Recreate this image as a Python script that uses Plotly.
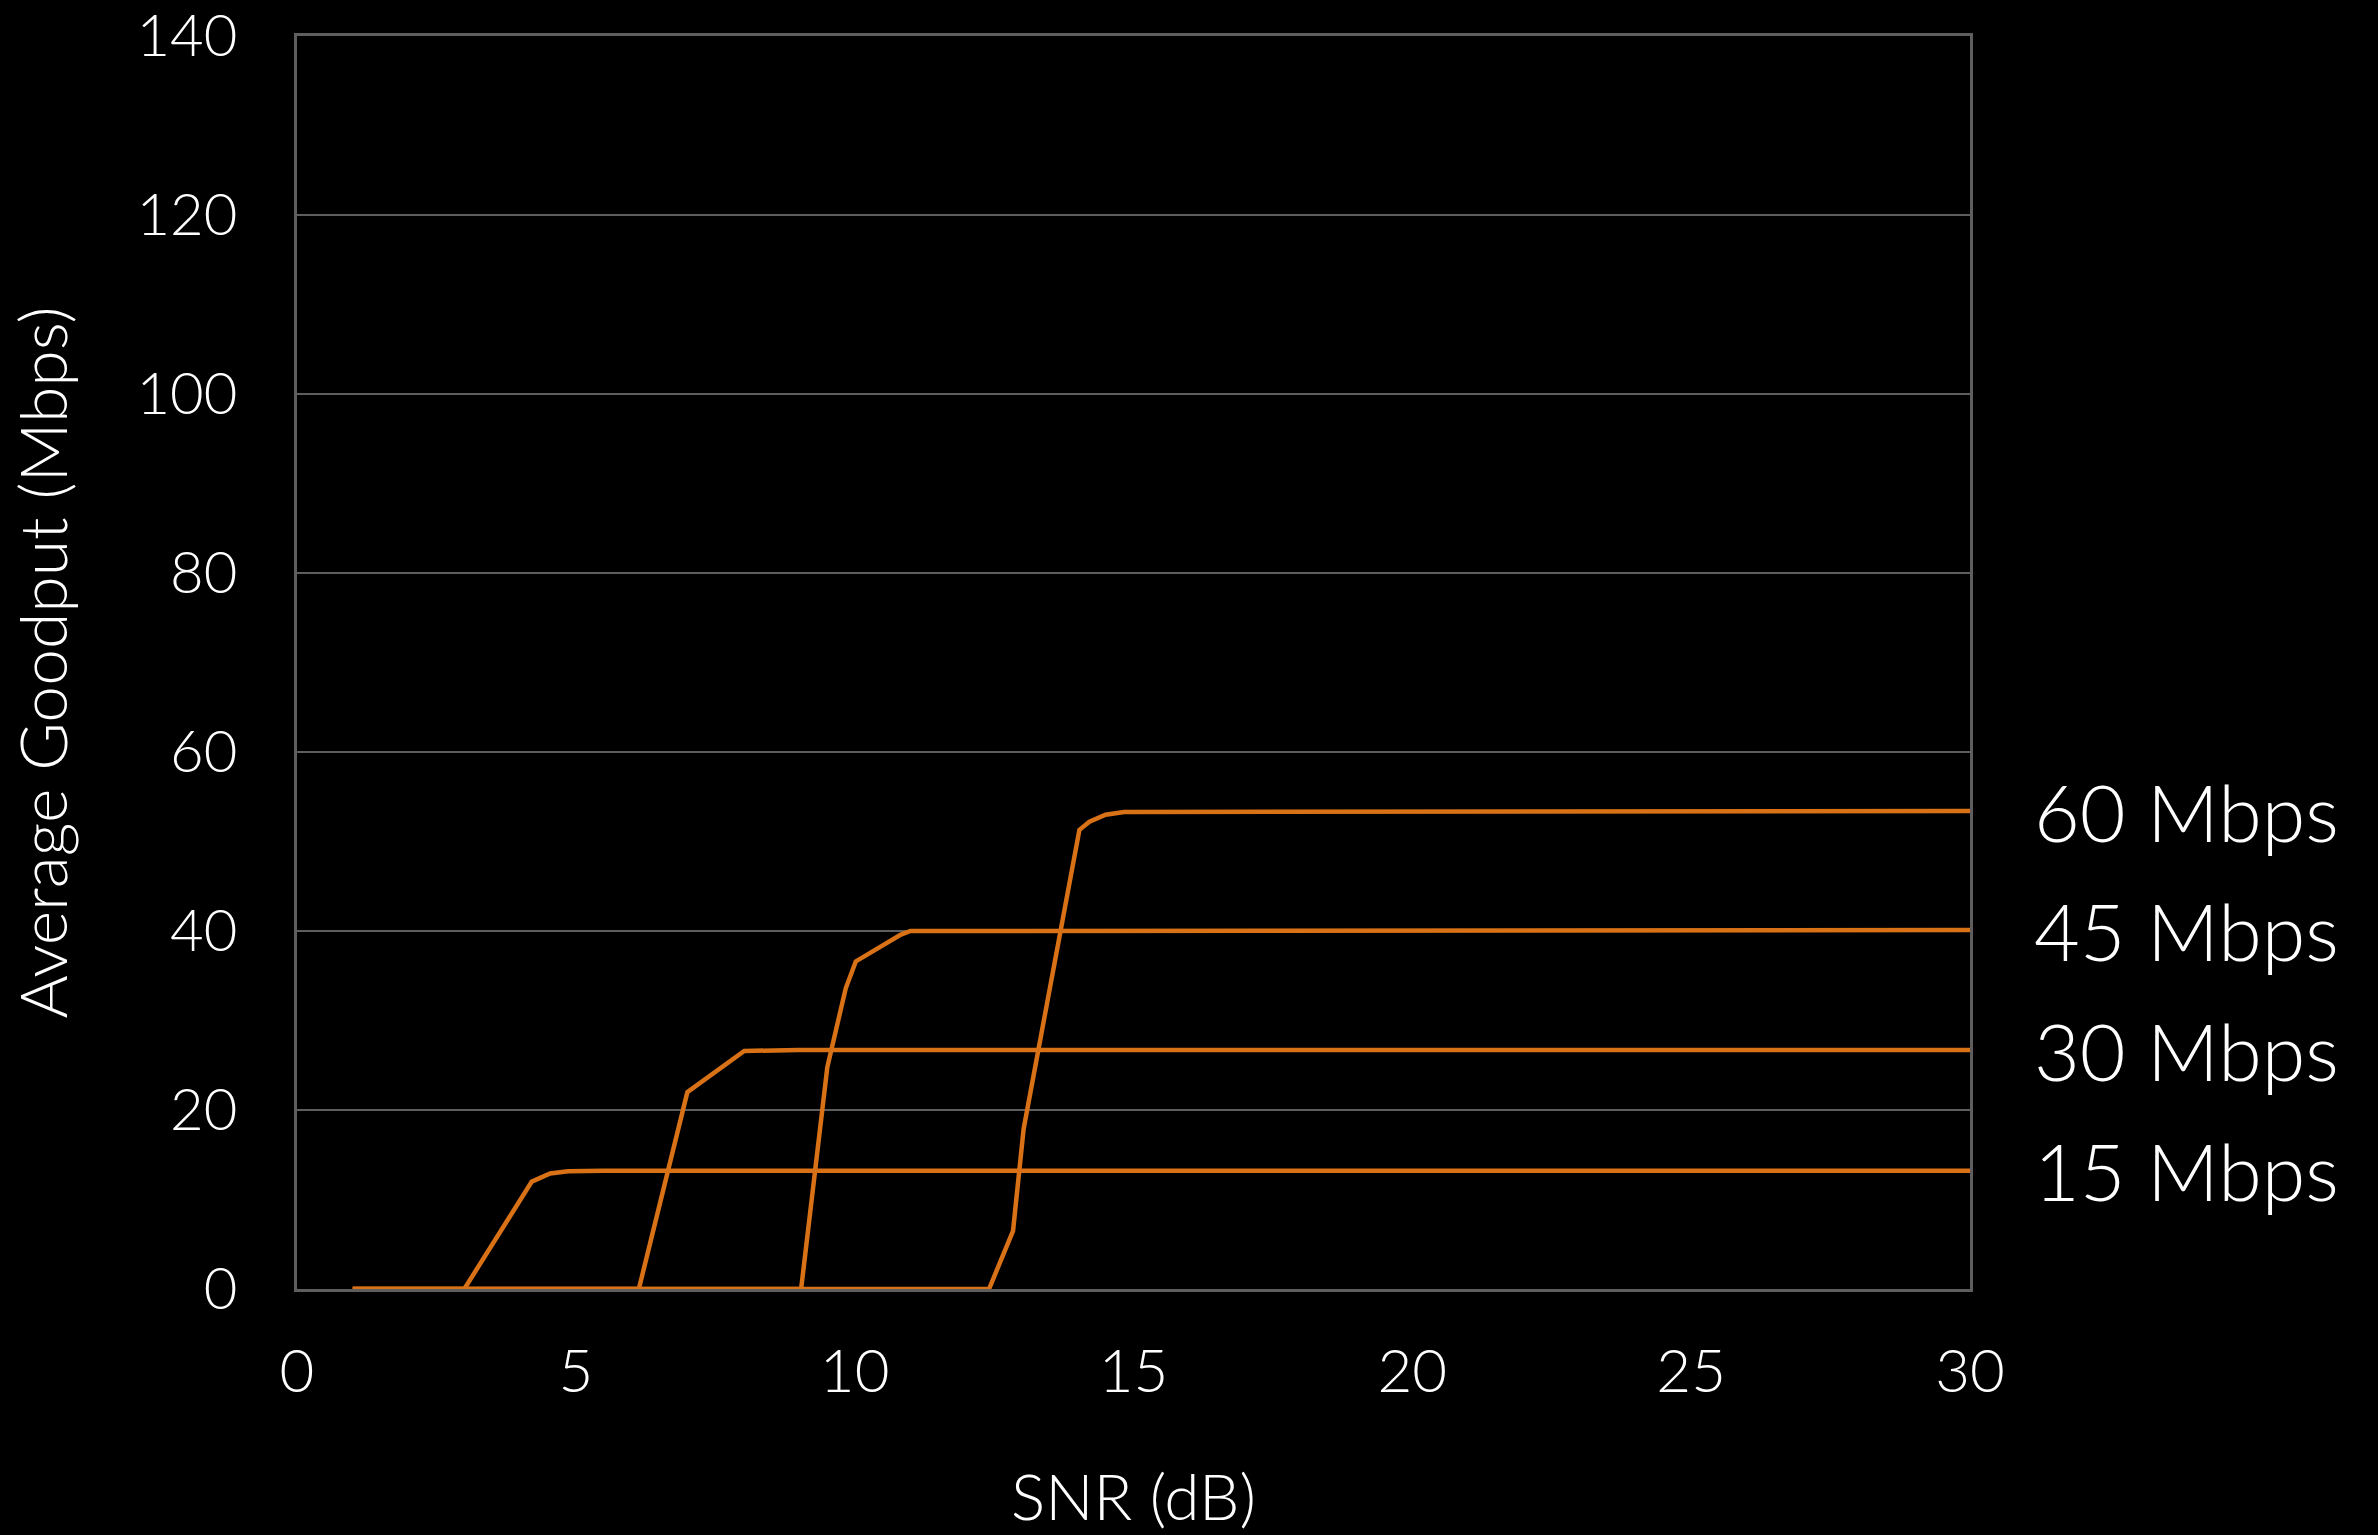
import plotly.graph_objects as go

snr_15 = [1, 3.0, 4.21, 4.54, 4.86, 5.5, 30]
goodput_15 = [0, 0, 12.0, 12.9, 13.15, 13.2, 13.2]

snr_30 = [1, 6.13, 7.0, 8.02, 9.0, 30]
goodput_30 = [0, 0, 22.0, 26.6, 26.7, 26.7]

snr_45 = [1, 9.04, 9.51, 9.84, 10.02, 10.83, 11.0, 30]
goodput_45 = [0, 0, 24.8, 33.6, 36.6, 39.6, 40.0, 40.1]

snr_60 = [1, 12.41, 12.84, 13.03, 14.03, 14.21, 14.5, 14.83, 30]
goodput_60 = [0, 0, 6.5, 17.9, 51.3, 52.2, 53.0, 53.3, 53.4]

series_labels = ["15 Mbps", "30 Mbps", "45 Mbps", "60 Mbps"]
x_ticks = [0, 5, 10, 15, 20, 25, 30]
y_ticks = [0, 20, 40, 60, 80, 100, 120, 140]

ORANGE = "#D97217"
GRID = "#5e5e5e"
FONT = "Lato"

series = [(snr_15, goodput_15), (snr_30, goodput_30), (snr_45, goodput_45), (snr_60, goodput_60)]

fig = go.Figure()
for (xs, ys), name in zip(series, series_labels):
    fig.add_trace(go.Scatter(x=xs, y=ys, mode="lines", name=name,
                             line=dict(color=ORANGE, width=4.5), showlegend=False))

for (xs, ys), name in zip(series, series_labels):
    fig.add_annotation(x=xs[-1], y=ys[-1], xref="x", yref="y", text=name,
                       showarrow=False, xanchor="left", yanchor="middle", xshift=62,
                       font=dict(family=FONT, size=79, color="white", weight=300))

fig.update_layout(
    width=2378, height=1535,
    paper_bgcolor="black", plot_bgcolor="black",
    margin=dict(l=297, r=408, t=36, b=246),
    font=dict(family=FONT, color="white", weight=300),
    xaxis=dict(range=[0, 30], tickvals=x_ticks, showgrid=False, zeroline=False,
               showline=True, linecolor=GRID, linewidth=3, mirror=True, automargin=False,
               ticks="", tickfont=dict(family=FONT, size=60, color="white", weight=300),
               ticklabelstandoff=28,
               title=dict(text="SNR (dB)", font=dict(family=FONT, size=64, color="white", weight=300),
                          standoff=72)),
    yaxis=dict(range=[0, 140], tickvals=y_ticks, showgrid=True, gridcolor=GRID, gridwidth=2,
               zeroline=False, showline=True, linecolor=GRID, linewidth=3, mirror=True,
               automargin=False,
               ticks="", tickfont=dict(family=FONT, size=58, color="white", weight=300),
               ticklabelstandoff=45, ticklabeloverflow="allow",
               title=dict(text="Average Goodput (Mbps)", font=dict(family=FONT, size=66, color="white", weight=300),
                          standoff=48)),
)

fig.write_html("out.html", config={"displayModeBar": False},
               post_script="document.body.style.margin='0';document.body.style.background='black';")
